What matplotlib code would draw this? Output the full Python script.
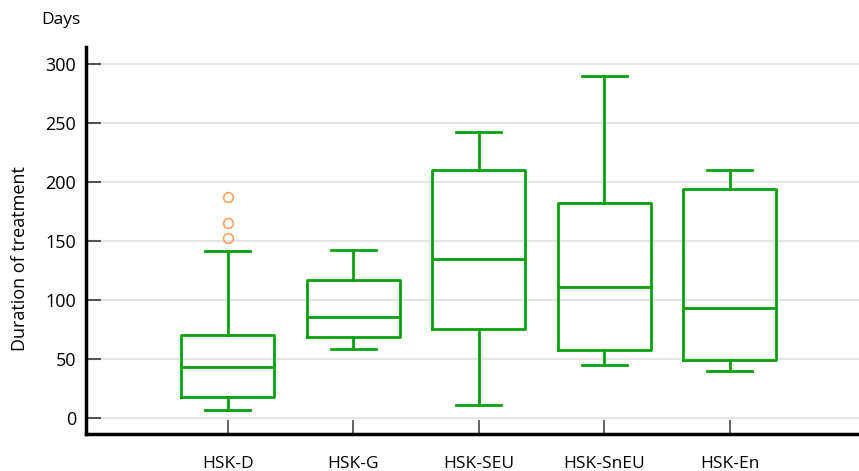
import matplotlib
matplotlib.use("Agg")
import matplotlib.pyplot as plt

plt.rcParams['font.family'] = ['Open Sans', 'DejaVu Sans']

categories = ["HSK-D", "HSK-G", "HSK-SEU", "HSK-SnEU", "HSK-En"]
whisker_low = [7, 58.5, 11, 44.5, 39.5]
q1 = [17.5, 69, 75.5, 57.5, 49]
median = [43.5, 85.5, 134.5, 111, 93.5]
q3 = [70, 116.5, 210, 182, 194]
whisker_high = [141, 142, 242, 289.5, 210]
outliers = [[152.5, 165, 187], [], [], [], []]
yticks = [0, 50, 100, 150, 200, 250, 300]

green = "#0aa00a"
stats = []
for i, c in enumerate(categories):
    stats.append(dict(label=c, whislo=whisker_low[i], q1=q1[i], med=median[i],
                      q3=q3[i], whishi=whisker_high[i], fliers=outliers[i]))

fig = plt.figure(figsize=(8.59, 4.71), dpi=100)
ax = fig.add_axes([86/859, 1-434/471, 1-86/859, (434-47)/471])

positions = list(range(1, len(categories) + 1))
lw = 2.0
ax.bxp(stats, positions=positions, widths=0.74, showfliers=True,
       boxprops=dict(color=green, linewidth=lw),
       medianprops=dict(color=green, linewidth=lw),
       whiskerprops=dict(color=green, linewidth=lw),
       capprops=dict(color=green, linewidth=lw),
       capwidths=0.36,
       flierprops=dict(marker='o', markerfacecolor='none', markeredgecolor='#f7a35c',
                       markersize=7, markeredgewidth=1.2),
       zorder=3)

ax.set_xlim(-0.13, 6.03)
ax.set_ylim(-13.5, 314)
ax.set_yticks(yticks)
ax.set_xticks(positions)
ax.set_xticklabels(categories)
ax.yaxis.grid(True, color="#e3e3e3", linewidth=1.3, zorder=0)
ax.set_axisbelow(True)

for s in ['top', 'right']:
    ax.spines[s].set_visible(False)
for s in ['left', 'bottom']:
    ax.spines[s].set_linewidth(2.5)
    ax.spines[s].set_color('black')

ax.tick_params(axis='y', direction='in', length=11, width=1.5, color='#555555',
               labelsize=13, pad=7)
ax.tick_params(axis='x', direction='in', length=10, width=1.3, color='#555555',
               labelsize=12.5, pad=16)

fig.text(61/859, 1-20/471, "Days", ha='center', va='center', fontsize=12.5)
fig.text(20/859, 1-259/471, "Duration of treatment", rotation=90,
         ha='center', va='center', fontsize=13)

fig.savefig("out.png", dpi=100)
